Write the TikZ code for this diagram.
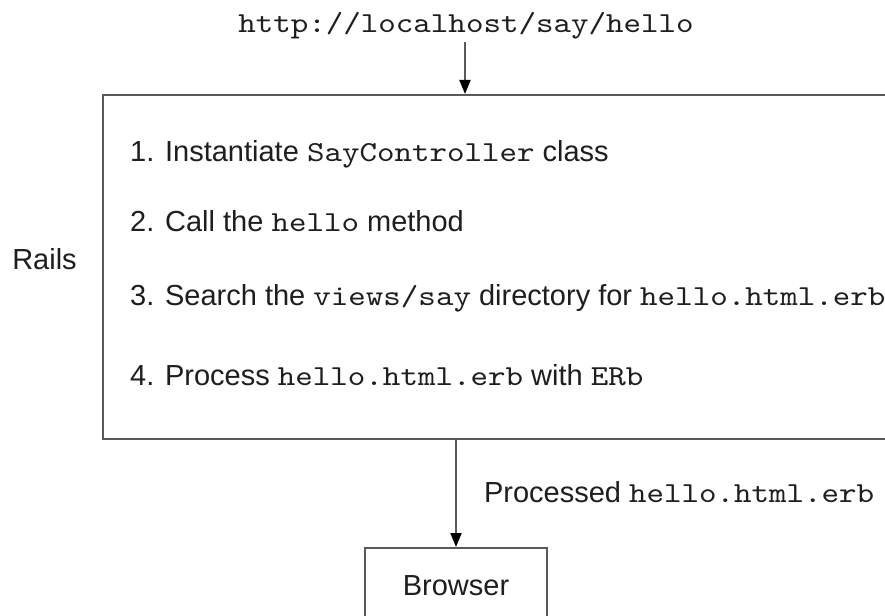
\documentclass[tikz,border=0pt]{standalone}
\usepackage{fontspec}
\setmainfont{Liberation Sans}
\newfontfamily\cour[FakeStretch=1.15]{lmmono10-regular.otf}
\usetikzlibrary{arrows.meta}
\definecolor{ink}{HTML}{1E1E1E}
\definecolor{linegray}{HTML}{5A5A5A}
\newcommand{\mt}[1]{{\fontsize{29}{33}\cour #1}}
\newcommand{\urlt}[1]{{\fontsize{29}{33}\cour #1}}
\begin{document}
\begin{tikzpicture}[x=1pt,y=1pt,
  txt/.style={text=ink, font=\fontsize{29}{33}\selectfont, inner sep=0pt},
  frame/.style={draw=linegray, line width=2pt},
  arr/.style={draw=linegray, line width=2pt, -{Triangle[length=14pt,width=11pt,fill=black,color=black]}}]
\clip (0,0) rectangle (885,-615);
\fill[white] (0,0) rectangle (885,-615);
% top url
\node[txt, anchor=base] (url) at (466,-33) {\urlt{http://localhost/say/hello}};
% main box
\node[frame, anchor=north west, minimum width=820pt, minimum height=344pt, inner sep=0pt] (rails) at (102,-94) {};
\node[txt, anchor=base] (railslbl) at (44.5,-269) {Rails};
\node[txt, anchor=base west] (s1) at (130,-161) {1. Instantiate \mt{SayController} class};
\node[txt, anchor=base west] (s2) at (130,-231) {2. Call the \mt{hello} method};
\node[txt, anchor=base west] (s3) at (130,-305) {3. Search the \mt{views/say} directory for \mt{hello.html.erb}};
\node[txt, anchor=base west] (s4) at (130,-385) {4. Process \mt{hello.html.erb} with \mt{ERb}};
% browser
\node[frame, anchor=north, minimum width=182pt, minimum height=120pt, inner sep=0pt] (browser) at (456,-547) {};
\node[txt, anchor=base] (browserlbl) at (456,-595) {Browser};
% connectors
\coordinate (urlfoot) at (465,-42);
\draw[arr] (urlfoot) -- (rails.north -| urlfoot);
\draw[arr] (rails.south -| browser.north) -- (browser.north)
  node[txt, midway, anchor=base west, xshift=27pt, yshift=-9pt] (proc) {Processed \mt{hello.html.erb}};
\end{tikzpicture}
\end{document}
